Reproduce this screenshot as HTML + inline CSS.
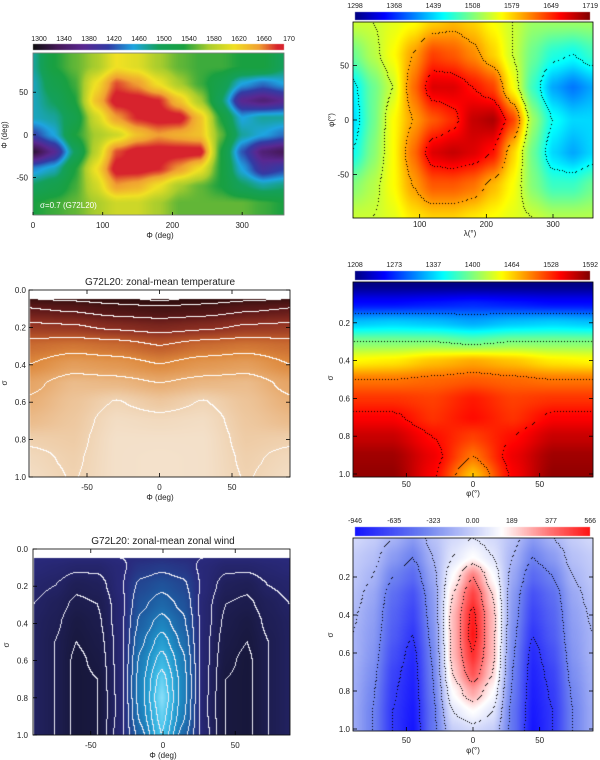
<!DOCTYPE html>
<html><head><meta charset="utf-8"><title>G72L20 panels</title>
<style>
html,body{margin:0;padding:0;background:#fff;}
#wrap{position:relative;width:600px;height:760px;overflow:hidden;font-family:"Liberation Sans",sans-serif;}
canvas,svg{position:absolute;left:0;top:0;}
text{font-family:"Liberation Sans",sans-serif;}
</style></head>
<body>
<div id="wrap">
<canvas id="cv" width="600" height="760"></canvas>
<svg id="ov" width="600" height="760"></svg>
</div>
<script>
// ---------- Panel 1: temperature map sigma=0.7 ----------
const p1Lon = [0,30,60,90,120,150,180,210,240,270,300,330,360];
const p1Lat = [80,60,40,20,0,-20,-40,-60,-80];
const p1Values = [
 [1480,1540,1560,1580,1620,1610,1580,1560,1550,1550,1540,1540,1500],
 [1470,1520,1550,1620,1680,1660,1620,1580,1550,1520,1460,1440,1460],
 [1470,1500,1540,1640,1700,1700,1690,1640,1580,1500,1380,1360,1380],
 [1470,1480,1520,1600,1660,1690,1700,1700,1640,1540,1460,1480,1480],
 [1420,1460,1540,1580,1600,1640,1660,1650,1640,1560,1480,1460,1440],
 [1320,1380,1500,1590,1680,1700,1700,1700,1700,1540,1430,1360,1340],
 [1450,1470,1540,1620,1700,1700,1690,1660,1620,1540,1460,1400,1420],
 [1500,1520,1550,1600,1660,1650,1620,1580,1560,1540,1500,1480,1490],
 [1540,1550,1560,1580,1600,1600,1580,1560,1560,1560,1560,1550,1540]
];
const p1CbarLabels = ["1300","1340","1380","1420","1460","1500","1540","1580","1620","1660","170"];
const p1XTicks = [0,100,200,300];
const p1YTicks = [50,0,-50];

// ---------- Panel 2: temperature map (jet) ----------
const p2Lon = [0,30,60,90,120,150,180,210,240,270,300,330,360];
const p2Lat = [90,60,30,0,-30,-60,-90];
const p2Values = [
 [1540,1540,1550,1560,1580,1590,1580,1560,1540,1520,1520,1520,1520],
 [1500,1530,1560,1600,1640,1630,1610,1580,1540,1500,1470,1460,1480],
 [1450,1500,1540,1620,1680,1680,1660,1640,1560,1480,1420,1400,1420],
 [1440,1500,1560,1600,1630,1650,1690,1700,1640,1520,1460,1440,1440],
 [1460,1510,1560,1620,1680,1690,1680,1660,1580,1500,1440,1420,1440],
 [1510,1530,1560,1600,1630,1630,1620,1590,1560,1510,1480,1480,1500],
 [1540,1540,1550,1570,1580,1580,1570,1560,1550,1540,1530,1530,1530]
];
const p2Levels = [1460,1540,1600,1660];
const p2CbarLabels = ["1298","1368","1439","1508","1579","1649","1719"];
const p2XTicks = [100,200,300];
const p2YTicks = [50,0,-50];

// ---------- Panel 3: zonal-mean temperature ----------
const p3Lat = [-90,-60,-30,0,30,60,90];
const p3Sigma = [0.05,0.1,0.2,0.3,0.4,0.5,0.6,0.7,0.8,0.9,1.0];
const p3Values = [
 [1250,1240,1220,1200,1220,1240,1250],
 [1300,1290,1270,1260,1270,1290,1300],
 [1360,1355,1340,1330,1340,1355,1360],
 [1420,1430,1420,1400,1420,1430,1420],
 [1450,1480,1470,1450,1470,1480,1450],
 [1490,1520,1515,1500,1515,1520,1490],
 [1505,1530,1552,1535,1552,1530,1505],
 [1520,1535,1565,1560,1565,1535,1520],
 [1545,1540,1570,1570,1570,1540,1545],
 [1558,1545,1570,1572,1570,1545,1558],
 [1565,1548,1570,1572,1570,1548,1565]
];
const p3Levels = [1210,1250,1300,1350,1400,1450,1500,1550];
const p3XTicks = [-50,0,50];
const p3YTicks = [0.0,0.2,0.4,0.6,0.8,1.0];

// ---------- Panel 4: zonal-mean temperature (jet) ----------
const p4Lat = [-90,-60,-30,0,30,60,90];
const p4Sigma = [0.0,0.1,0.2,0.3,0.4,0.5,0.6,0.7,0.8,0.9,1.0];
const p4Values = [
 [1210,1210,1210,1210,1210,1210,1210],
 [1260,1260,1265,1270,1265,1260,1260],
 [1330,1335,1330,1320,1330,1335,1330],
 [1400,1400,1400,1390,1400,1400,1400],
 [1450,1455,1470,1480,1470,1455,1450],
 [1500,1500,1505,1510,1505,1500,1500],
 [1525,1525,1520,1535,1520,1525,1525],
 [1545,1545,1525,1540,1525,1545,1545],
 [1565,1565,1540,1520,1540,1565,1565],
 [1580,1580,1550,1500,1550,1580,1580],
 [1585,1585,1545,1470,1545,1585,1585]
];
const p4Levels = [1300,1400,1500,1540];
const p4CbarLabels = ["1208","1273","1337","1400","1464","1528","1592"];
const p4XTicks = [-50,0,50];
const p4YTicks = [0.2,0.4,0.6,0.8,1.0];

// ---------- Panel 5: zonal-mean zonal wind ----------
const p5Lat = [-90,-75,-60,-45,-30,-15,0,15,30,45,60,75,90];
const p5Sigma = [0.05,0.1,0.2,0.3,0.4,0.5,0.6,0.7,0.8,0.9,1.0];
const p5Values = [
 [-10,-20,-50,-50,0,20,50,20,0,-50,-50,-20,-10],
 [-50,-100,-150,-150,-50,100,150,100,-50,-150,-150,-100,-50],
 [-150,-200,-350,-300,-50,250,350,250,-50,-300,-350,-200,-150],
 [-200,-300,-450,-400,-100,350,500,350,-100,-400,-450,-300,-200],
 [-250,-350,-550,-450,-100,450,700,450,-100,-450,-550,-350,-250],
 [-250,-400,-600,-500,-120,550,900,550,-120,-500,-600,-400,-250],
 [-250,-400,-650,-550,-120,650,1100,650,-120,-550,-650,-400,-250],
 [-250,-400,-650,-600,-130,700,1300,700,-130,-600,-650,-400,-250],
 [-250,-400,-650,-600,-140,700,1400,700,-140,-600,-650,-400,-250],
 [-250,-400,-650,-600,-140,650,1300,650,-140,-600,-650,-400,-250],
 [-250,-400,-650,-600,-100,500,1200,500,-100,-600,-650,-400,-250]
];
const p5Levels = [-600,-400,-200,0,200,400,600,800,1000,1200,1400];
const p5XTicks = [-50,0,50];
const p5YTicks = [0.0,0.2,0.4,0.6,0.8,1.0];

// ---------- Panel 6: zonal wind (bwr) ----------
const p6Lat = [-90,-75,-60,-45,-30,-15,0,15,30,45,60,75,90];
const p6Sigma = [0.0,0.1,0.2,0.3,0.4,0.5,0.6,0.7,0.8,0.9,1.0];
const p6Values = [
 [-150,-200,-300,-400,-250,-150,-100,-150,-250,-400,-300,-200,-150],
 [-200,-250,-400,-500,-300,-100,0,-100,-300,-500,-400,-250,-200],
 [-220,-300,-500,-600,-350,0,300,0,-350,-600,-500,-300,-220],
 [-250,-350,-580,-700,-400,100,450,100,-400,-700,-580,-350,-250],
 [-280,-380,-620,-750,-420,150,540,150,-420,-750,-620,-380,-280],
 [-300,-400,-650,-800,-450,150,566,150,-450,-800,-650,-400,-300],
 [-300,-420,-700,-850,-480,150,500,150,-480,-850,-700,-420,-300],
 [-320,-450,-750,-880,-500,100,400,100,-500,-880,-750,-450,-320],
 [-330,-480,-780,-900,-520,0,200,0,-520,-900,-780,-480,-330],
 [-340,-500,-800,-920,-550,-100,0,-100,-550,-920,-800,-500,-340],
 [-340,-500,-800,-940,-550,-200,-150,-200,-550,-940,-800,-500,-340]
];
const p6Levels = [-800,-500,-300,-100,100,300,500];
const p6CbarLabels = ["-946","-635","-323","0.00","189","377","566"];
const p6XTicks = [-50,0,50];
const p6YTicks = [0.2,0.4,0.6,0.8,1.0];

// ---------- colour maps (styling) ----------
const CM1 = [[1300,16,16,16],[1340,70,25,90],[1380,90,40,145],[1420,50,60,165],[1460,30,165,225],[1500,20,160,90],[1540,25,160,65],[1580,170,205,45],[1620,240,225,35],[1660,240,160,50],[1690,215,35,45],[1700,215,35,45]];
const CMJET = [[0,0,0,128],[0.125,0,0,255],[0.375,0,255,255],[0.625,255,255,0],[0.875,255,0,0],[1,128,0,0]];
const CM3 = [[1190,40,12,12],[1250,62,18,18],[1300,95,25,25],[1350,145,50,35],[1400,190,90,42],[1450,222,138,62],[1500,232,172,112],[1550,240,212,180],[1580,245,230,212]];
const CM5 = [[-700,22,22,55],[-300,32,32,90],[0,42,42,125],[400,30,90,160],[800,30,145,200],[1200,70,195,235],[1500,170,235,255]];
const CMBWR = [[-946,20,20,255],[-500,110,130,240],[0,255,255,255],[300,255,120,120],[566,255,20,20]];

function cmap(stops, v){
  if(v<=stops[0][0]) return stops[0].slice(1);
  for(let i=0;i<stops.length-1;i++){
    const a=stops[i], b=stops[i+1];
    if(v<=b[0]){ const t=(v-a[0])/(b[0]-a[0]); return [a[1]+t*(b[1]-a[1]),a[2]+t*(b[2]-a[2]),a[3]+t*(b[3]-a[3])]; }
  }
  return stops[stops.length-1].slice(1);
}
function jet(lo,hi){ return CMJET.map(s=>[lo+s[0]*(hi-lo),s[1],s[2],s[3]]); }

function seg(arr, v){
  for(let i=0;i<arr.length-1;i++){
    const a=arr[i], b=arr[i+1]; const t=(v-a)/(b-a);
    if(t>=0 && t<=1) return [i,t];
  }
  const first=arr[0], last=arr[arr.length-1];
  if(Math.abs(v-first)<Math.abs(v-last)) return [0,0];
  return [arr.length-2,1];
}
function sample(xs, ys, grid, x, y){
  const [i,tx]=seg(xs,x); const [j,ty]=seg(ys,y);
  const a=grid[j][i], b=grid[j][i+1], c=grid[j+1][i], d=grid[j+1][i+1];
  const sx=tx*tx*(3-2*tx)*0.5+tx*0.5, sy=ty*ty*(3-2*ty)*0.5+ty*0.5;
  return (a*(1-sx)+b*sx)*(1-sy)+(c*(1-sx)+d*sx)*sy;
}

const cv=document.getElementById('cv'); const ctx=cv.getContext('2d');
ctx.fillStyle='#fff'; ctx.fillRect(0,0,600,760);

function field(o){
  const W=o.x1-o.x0, H=o.y1-o.y0;
  const img=ctx.createImageData(W,H);
  const vals=new Float32Array(W*H);
  for(let py=0;py<H;py++){
    const dy=o.d0+(py+0.5)/H*(o.d1-o.d0);
    for(let px=0;px<W;px++){
      const dx=o.c0+(px+0.5)/W*(o.c1-o.c0);
      vals[py*W+px]=sample(o.xs,o.ys,o.grid,dx,dy);
    }
  }
  const lev=v=>{ let k=0; if(!o.levels) return 0; for(const L of o.levels){ if(v>=L) k++; } return k; };
  for(let py=0;py<H;py++){
    for(let px=0;px<W;px++){
      const v=vals[py*W+px]; let c=cmap(o.cm,v);
      if(o.levels){
        const k=lev(v);
        const kr = px<W-1 ? lev(vals[py*W+px+1]) : k;
        const kb = py<H-1 ? lev(vals[(py+1)*W+px]) : k;
        if(k!==kr || k!==kb){
          if(!o.dotted || ((px+py)%3===0)) c=o.lineColor;
        }
      }
      const p=(py*W+px)*4; img.data[p]=c[0]; img.data[p+1]=c[1]; img.data[p+2]=c[2]; img.data[p+3]=255;
    }
  }
  ctx.putImageData(img,o.x0,o.y0);
}
function cbar(x0,x1,y0,y1,cm,lo,hi){
  for(let x=x0;x<x1;x++){
    const c=cmap(cm, lo+(x-x0+0.5)/(x1-x0)*(hi-lo));
    ctx.fillStyle=`rgb(${c[0]|0},${c[1]|0},${c[2]|0})`; ctx.fillRect(x,y0,1,y1-y0);
  }
}

field({x0:33,x1:284,y0:53,y1:215,c0:0,c1:360,d0:96,d1:-94,xs:p1Lon,ys:p1Lat,grid:p1Values,cm:CM1});
cbar(33,284,44,50,CM1,1300,1700);
const J2=jet(1298,1719);
field({x0:353,x1:593,y0:22,y1:218,c0:0,c1:360,d0:90,d1:-90,xs:p2Lon,ys:p2Lat,grid:p2Values,cm:J2,levels:p2Levels,lineColor:[0,0,0],dotted:true});
cbar(355,590,12,20,J2,1298,1719);
field({x0:30,x1:290,y0:299,y1:477,c0:-90,c1:90,d0:0.05,d1:1.0,xs:p3Lat,ys:p3Sigma,grid:p3Values,cm:CM3,levels:p3Levels,lineColor:[255,255,255]});
const J4=jet(1208,1592);
field({x0:353,x1:593,y0:282,y1:477,c0:-90,c1:90,d0:-0.015,d1:1.01,xs:p4Lat,ys:p4Sigma,grid:p4Values,cm:J4,levels:p4Levels,lineColor:[0,0,0],dotted:true});
cbar(355,590,271,280,J4,1208,1592);
field({x0:34,x1:290,y0:558,y1:735,c0:-90,c1:90,d0:0.05,d1:1.0,xs:p5Lat,ys:p5Sigma,grid:p5Values,cm:CM5,levels:p5Levels,lineColor:[235,235,245]});
field({x0:353,x1:593,y0:538,y1:731,c0:-90,c1:90,d0:0.0,d1:1.0,xs:p6Lat,ys:p6Sigma,grid:p6Values,cm:CMBWR,levels:p6Levels,lineColor:[0,0,0],dotted:true});
cbar(355,590,527,536,CMBWR,-946,566);

// ---------- SVG overlay ----------
const NS='http://www.w3.org/2000/svg'; const ov=document.getElementById('ov');
function T(x,y,s,name,opt){
  opt=opt||{};
  const t=document.createElementNS(NS,'text');
  t.setAttribute('x',x); t.setAttribute('y',y);
  t.setAttribute('font-size',opt.size||8);
  t.setAttribute('fill',opt.fill||'#222');
  t.setAttribute('text-anchor',opt.anchor||'middle');
  if(opt.rot) t.setAttribute('transform',`rotate(-90 ${x} ${y})`);
  
  
  t.textContent=s; ov.appendChild(t); return t;
}
function R(x,y,w,h,name,stroke){
  const r=document.createElementNS(NS,'rect');
  r.setAttribute('x',x); r.setAttribute('y',y); r.setAttribute('width',w); r.setAttribute('height',h);
  r.setAttribute('fill','none'); r.setAttribute('stroke',stroke||'#000'); r.setAttribute('stroke-width','0.8');
  
  
  ov.appendChild(r);
}
function tick(x1,y1,x2,y2){
  const l=document.createElementNS(NS,'line');
  l.setAttribute('x1',x1);l.setAttribute('y1',y1);l.setAttribute('x2',x2);l.setAttribute('y2',y2);
  l.setAttribute('stroke','#000');l.setAttribute('stroke-width','0.8');
  
  
  ov.appendChild(l);
}
function lin(d0,d1,p0,p1){ return v=>p0+(v-d0)/(d1-d0)*(p1-p0); }

{ const xs=lin(0,360,33,284), ys=lin(96,-94,53,215);
  R(33,53,251,162,'panel1-frame','#777');
  p1CbarLabels.forEach((s,i)=>T(33+i*25+6,41,s,'panel1-colorbar-label',{size:7}));
  p1XTicks.forEach(v=>{T(xs(v),228,String(v),'panel1-x-tick-label');tick(xs(v),215,xs(v),212);});
  p1YTicks.forEach(v=>{T(28,ys(v)+3,String(v),'panel1-y-tick-label',{anchor:'end'});tick(33,ys(v),36,ys(v));});
  T(160,238,'Φ (deg)','panel1-x-axis-title');
  T(7,135,'Φ (deg)','panel1-y-axis-title',{rot:true});
  T(40,208,'σ=0.7 (G72L20)','panel1-annotation',{anchor:'start',fill:'#fff',size:8});
}
{ const xs=lin(0,360,353,593), ys=lin(90,-90,22,218);
  R(353,22,240,196,'panel2-frame');
  p2CbarLabels.forEach((s,i)=>T(355+i*39.2,8,s,'panel2-colorbar-label',{size:7}));
  p2XTicks.forEach(v=>{T(xs(v),227,String(v),'panel2-x-tick-label');tick(xs(v),218,xs(v),214);});
  p2YTicks.forEach(v=>{T(349,ys(v)+3,String(v),'panel2-y-tick-label',{anchor:'end'});tick(353,ys(v),357,ys(v));});
  T(470,236,'λ(°)','panel2-x-axis-title');
  T(334,120,'φ(°)','panel2-y-axis-title',{rot:true});
}
{ const xs=lin(-90,90,29,290), ys=lin(0,1,290,477);
  R(29,290,261,187,'panel3-frame');
  T(160,285,'G72L20: zonal-mean temperature','panel3-title',{size:10});
  p3XTicks.forEach(v=>{T(xs(v),490,String(v),'panel3-x-tick-label');tick(xs(v),477,xs(v),473);tick(xs(v),290,xs(v),294);});
  p3YTicks.forEach(v=>{T(26,ys(v)+3,v.toFixed(1),'panel3-y-tick-label',{anchor:'end'});tick(29,ys(v),33,ys(v));tick(290,ys(v),286,ys(v));});
  T(160,500,'Φ (deg)','panel3-x-axis-title');
  T(7,383,'σ','panel3-y-axis-title',{rot:true});
}
{ const xs=lin(-90,90,353,593), ys=lin(0,1,285,474);
  R(353,282,240,195,'panel4-frame');
  p4CbarLabels.forEach((s,i)=>T(355+i*39.2,267,s,'panel4-colorbar-label',{size:7}));
  p4XTicks.forEach(v=>{T(xs(v),487,String(Math.abs(v)),'panel4-x-tick-label');tick(xs(v),477,xs(v),473);});
  p4YTicks.forEach(v=>{T(350,ys(v)+3,v.toFixed(1),'panel4-y-tick-label',{anchor:'end'});tick(353,ys(v),357,ys(v));tick(593,ys(v),589,ys(v));});
  T(473,496,'φ(°)','panel4-x-axis-title');
  T(333,378,'σ','panel4-y-axis-title',{rot:true});
}
{ const xs=lin(-90,90,33,293), ys=lin(0,1,549,735);
  R(33,549,257,186,'panel5-frame');
  T(163,544,'G72L20: zonal-mean zonal wind','panel5-title',{size:10});
  p5XTicks.forEach(v=>{T(xs(v),748,String(v),'panel5-x-tick-label');tick(xs(v),735,xs(v),731);tick(xs(v),549,xs(v),553);});
  p5YTicks.forEach(v=>{T(28,ys(v)+3,v.toFixed(1),'panel5-y-tick-label',{anchor:'end'});tick(33,ys(v),37,ys(v));});
  T(163,758,'Φ (deg)','panel5-x-axis-title');
  T(9,645,'σ','panel5-y-axis-title',{rot:true});
}
{ const xs=lin(-90,90,353,593), ys=lin(0,1,539,729);
  R(353,538,240,193,'panel6-frame');
  p6CbarLabels.forEach((s,i)=>T(355+i*39.2,523,s,'panel6-colorbar-label',{size:7}));
  p6XTicks.forEach(v=>{T(xs(v),743,String(Math.abs(v)),'panel6-x-tick-label');tick(xs(v),731,xs(v),727);});
  p6YTicks.forEach(v=>{T(350,ys(v)+3,v.toFixed(1),'panel6-y-tick-label',{anchor:'end'});tick(353,ys(v),357,ys(v));tick(593,ys(v),589,ys(v));});
  T(473,753,'φ(°)','panel6-x-axis-title');
  T(333,635,'σ','panel6-y-axis-title',{rot:true});
}
</script>
</body></html>
